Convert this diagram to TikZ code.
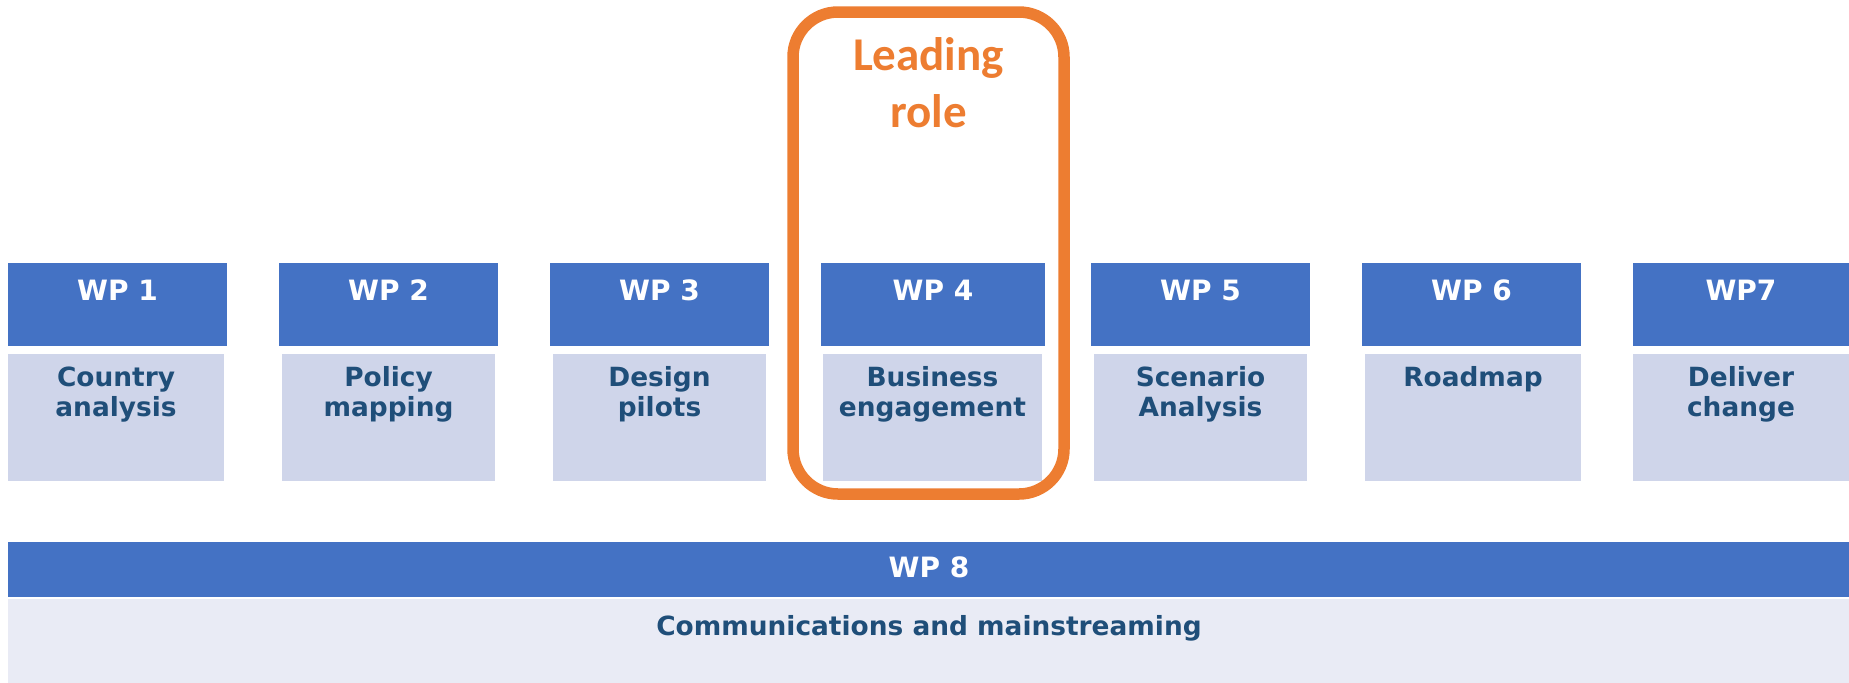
\documentclass[tikz,border=0pt]{standalone}
\usepackage{fontspec}
\setmainfont{DejaVu Sans}
\newfontfamily\leadfont{Carlito}
\definecolor{wpblue}{HTML}{4472C4}
\definecolor{wplight}{HTML}{CFD5EA}
\definecolor{wppale}{HTML}{E9EBF5}
\definecolor{wptext}{HTML}{1F4E79}
\definecolor{leadorange}{HTML}{ED7D31}
\begin{document}
\begin{tikzpicture}
    [x=0.5pt, y=-0.5pt,
      every node/.style={inner sep=0pt, outer sep=0pt},
      wphead/.style={fill=wpblue, anchor=north west, minimum height=41.5pt},
      wpbody/.style={fill=wplight, anchor=north west, minimum height=63.5pt},
      headtxt/.style={anchor=base, text=white, font=\bfseries\fontsize{14}{17}\selectfont},
      bodytxt/.style={anchor=north, align=center, text=wptext,
        font=\bfseries\fontsize{13.2}{15}\selectfont},
     ]
    \useasboundingbox (0,0) rectangle (1849,682);

    % work packages 1--7
    \foreach \n/\hx/\hw/\bx/\bw/\txt in {
        1/8/219/8/216/{Country\\analysis},
        2/279/219/282/213/{Policy\\mapping},
        3/550/219/553/213/{Design\\pilots},
        4/821/224/823/219/{Business\\engagement},
        5/1091/219/1094/213/{Scenario\\Analysis},
        6/1362/219/1365/216/{Roadmap},
        7/1633/216/1633/216/{Deliver\\change}}
    {
      \node[wphead, minimum width=\hw*0.5pt] (head\n) at (\hx,263) {};
      \node[wpbody, minimum width=\bw*0.5pt] (body\n) at (\bx,354) {};
      \ifnum\n=7
        \node[headtxt] (htxt\n) at ([yshift=-18.5pt]head\n.north) {WP\n};
      \else
        \node[headtxt] (htxt\n) at ([yshift=-18.5pt]head\n.north) {WP \n};
      \fi
      \node[bodytxt] (btxt\n) at ([yshift=-6pt]body\n.north) {\vphantom{l}\txt};
    }

    % work package 8 across the bottom
    \node[wphead, minimum width=920.5pt, minimum height=27.5pt] (head8) at (8,542) {};
    \node[fill=wppale, anchor=north west, minimum width=920.5pt, minimum height=42pt] (body8) at (8,599) {};
    \node[headtxt] (htxt8) at (929,577) {WP 8};
    \node[anchor=base, text=wptext, font=\bfseries\fontsize{13.2}{15}\selectfont] (btxt8) at (929,635) {Communications and mainstreaming};

    % leading role frame
    \node[draw=leadorange, line width=5.75pt, rounded corners=22.5pt, anchor=north west,
          minimum width=135.5pt, minimum height=241pt] (lead) at (793,12) {};
    \node[anchor=base, align=center, text=leadorange,
          font=\leadfont\bfseries\fontsize{23.5}{28.5}\selectfont] (leadtxt) at (928.5,127) {Leading\\role};
\end{tikzpicture}
\end{document}
